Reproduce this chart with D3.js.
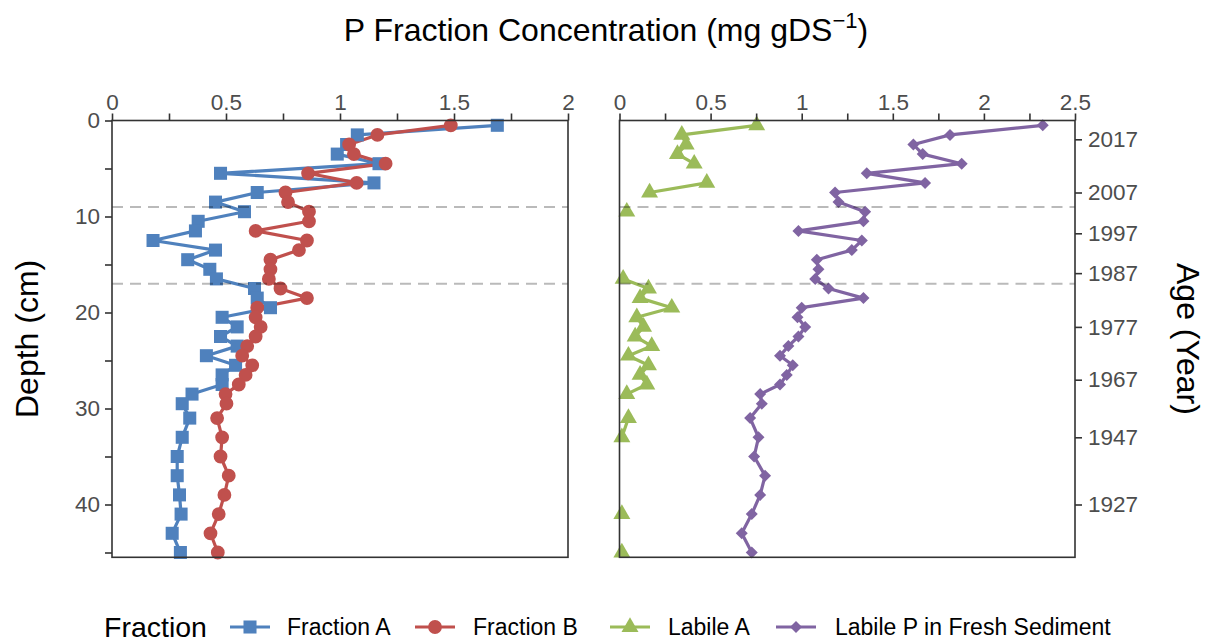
<!DOCTYPE html>
<html><head><meta charset="utf-8">
<script src="https://cdn.jsdelivr.net/npm/d3@7"></script>
<style>
body{margin:0;background:#fff;}
text{font-family:"Liberation Sans", Arial, Helvetica, sans-serif;}
</style></head><body>
<svg id="chart" width="1212" height="644"></svg>
<script>
// Sediment slice mid-depths (cm)
const depth = [0.5,1.5,2.5,3.5,4.5,5.5,6.5,7.5,8.5,9.5,10.5,11.5,12.5,13.5,14.5,15.5,16.5,17.5,18.5,19.5,
  20.5,21.5,22.5,23.5,24.5,25.5,26.5,27.5,28.5,29.5,31,33,35,37,39,41,43,45];

// P fractions (mg gDS^-1), left panel
const fractionA = [1.69,1.076,1.029,0.988,1.171,0.476,1.149,0.637,0.454,0.581,0.378,0.366,0.18,0.454,0.332,0.429,0.458,0.625,0.637,0.695,
  0.483,0.549,0.476,0.549,0.414,0.542,0.483,0.483,0.351,0.308,0.341,0.308,0.286,0.286,0.296,0.303,0.264,0.30];
const fractionB = [1.486,1.164,1.04,1.061,1.2,0.86,1.073,0.761,0.772,0.864,0.864,0.63,0.855,0.82,0.695,0.695,0.688,0.739,0.855,0.637,
  0.63,0.652,0.63,0.593,0.571,0.615,0.586,0.556,0.498,0.502,0.461,0.483,0.476,0.512,0.493,0.468,0.432,0.464];

// Labile fractions (mg gDS^-1), right panel; null = not measured
const labileA = [0.753,0.342,0.366,0.318,0.41,null,0.479,0.165,null,0.04,null,null,null,null,null,null,0.02,0.159,0.113,0.287,
  0.095,0.132,0.086,0.177,0.049,0.159,0.113,0.15,0.04,null,0.049,0.013,null,null,null,0.013,null,0.013];
const labileFresh = [2.323,1.814,1.613,1.664,1.878,1.357,1.677,1.183,1.202,1.348,1.339,0.982,1.33,1.275,1.083,1.092,1.074,1.147,1.339,1.0,
  0.977,1.019,0.982,0.927,0.881,0.951,0.918,0.881,0.772,0.781,0.717,0.763,0.739,0.799,0.772,0.726,0.671,0.726];

// Dated horizons: calendar year and the depth (cm) it maps to
const ageYears  = [2017, 2007, 1997, 1987, 1977, 1967, 1947, 1927];
const ageDepths = [1.96, 7.5, 11.75, 15.9, 21.5, 27.0, 33.0, 40.0];

// Axis ticks
const leftConcTicks  = [0, 0.25, 0.5, 0.75, 1, 1.25, 1.5, 1.75, 2];
const rightConcTicks = [0, 0.25, 0.5, 0.75, 1, 1.25, 1.5, 1.75, 2, 2.25, 2.5];
const depthTicks = [0, 5, 10, 15, 20, 25, 30, 35, 40, 45];

// Horizon markers (cm)
const horizons = [9, 17];

const seriesNames  = ["Fraction A", "Fraction B", "Labile A", "Labile P in Fresh Sediment"];
const seriesColors = ["#4F81BD", "#C0504D", "#9BBB59", "#8064A2"];

const svg = d3.select("#chart");

const plotTop = 120.5, plotBottom = 557.3;
const y = d3.scaleLinear().domain([0, 45.5]).range([plotTop, plotBottom]);
const xL = d3.scaleLinear().domain([0, 2]).range([112, 568]);
const xR = d3.scaleLinear().domain([0, 2.5]).range([619.5, 1075]);

const tickCol = "#333333", labCol = "#4D4D4D";
const fmt = d => (Math.abs(d * 2 - Math.round(d * 2)) < 1e-9) ? d3.format("~g")(d) : "";

function styleAxis(g) {
  g.select(".domain").remove();
  g.selectAll(".tick line").attr("stroke", tickCol).attr("stroke-width", 1.6);
  g.selectAll(".tick text").attr("fill", labCol).style("font-size", "22.5px")
    .style("font-family", "'Liberation Sans', Arial, sans-serif");
}

// symbol generators
const sq = d3.symbol(d3.symbolSquare, 170);
const ci = d3.symbol(d3.symbolCircle, 150);
const tr = d3.symbol(d3.symbolTriangle, 125);
const diamondPath = (s => `M0,${-s}L${s},0L0,${s}L${-s},0Z`)(6);
const shapes = [sq(), ci(), tr(), diamondPath];

function drawPanel(x, ticks, seriesIdx, values) {
  const rows = values.map(vals => depth.map((d, i) => ({ depth: d, v: vals[i] })));
  const line = d3.line().defined(d => d.v != null).x(d => x(d.v)).y(d => y(d.depth));
  rows.forEach((r, k) => {
    svg.append("path").datum(r).attr("d", line).attr("fill", "none")
      .attr("stroke", seriesColors[seriesIdx[k]]).attr("stroke-width", 3.2).attr("stroke-linejoin", "round");
  });
  rows.forEach((r, k) => {
    svg.append("g").selectAll("path").data(r.filter(d => d.v != null)).join("path")
      .attr("d", shapes[seriesIdx[k]])
      .attr("transform", d => `translate(${x(d.v)},${y(d.depth)})`)
      .attr("fill", seriesColors[seriesIdx[k]]);
  });
  // dashed horizons, drawn over the profiles
  svg.append("g").selectAll("line").data(horizons).join("line")
    .attr("x1", x.range()[0]).attr("x2", x.range()[1])
    .attr("y1", d => y(d)).attr("y2", d => y(d))
    .attr("stroke", "#000").attr("stroke-opacity", 0.27)
    .attr("stroke-width", 2).attr("stroke-dasharray", "11,7");
  // panel border
  svg.append("rect").attr("x", x.range()[0]).attr("y", plotTop)
    .attr("width", x.range()[1] - x.range()[0]).attr("height", plotBottom - plotTop)
    .attr("fill", "none").attr("stroke", tickCol).attr("stroke-width", 1.6);
  // top axis
  svg.append("g").attr("transform", `translate(0,${plotTop})`)
    .call(d3.axisTop(x).tickValues(ticks).tickFormat(fmt).tickSize(7).tickPadding(4))
    .call(styleAxis);
}

drawPanel(xL, leftConcTicks, [0, 1], [fractionA, fractionB]);
drawPanel(xR, rightConcTicks, [2, 3], [labileA, labileFresh]);

// depth axis
svg.append("g").attr("transform", `translate(${xL.range()[0]},0)`)
  .call(d3.axisLeft(y).tickValues(depthTicks).tickFormat(d => d % 10 === 0 ? d : "").tickSize(7).tickPadding(5))
  .call(styleAxis);

// age axis
svg.append("g").attr("transform", `translate(${xR.range()[1]},0)`)
  .call(d3.axisRight(y).tickValues(ageDepths).tickFormat((d, i) => ageYears[i]).tickSize(7).tickPadding(6))
  .call(styleAxis);

// titles
const title = svg.append("text").attr("x", 606).attr("y", 41).attr("text-anchor", "middle")
  .style("font-size", "32px").attr("fill", "#000");
title.append("tspan").text("P Fraction Concentration (mg gDS");
title.append("tspan").text("\u22121").style("font-size", "22px").attr("dy", -13);
title.append("tspan").text(")").attr("dy", 13);

svg.append("text").attr("transform", `translate(38,${(plotTop + plotBottom) / 2}) rotate(-90)`)
  .attr("text-anchor", "middle").style("font-size", "32px").text("Depth (cm)");
svg.append("text").attr("transform", `translate(1177,${(plotTop + plotBottom) / 2}) rotate(90)`)
  .attr("text-anchor", "middle").style("font-size", "32px").text("Age (Year)");

// legend
const ly = 627;
svg.append("text").attr("x", 104).attr("y", ly + 10).style("font-size", "28.5px").text("Fraction");
const keyC = [250, 435, 630, 796];
const labX = [287, 473, 668, 835];
seriesNames.forEach((name, k) => {
  svg.append("line").attr("x1", keyC[k] - 20).attr("x2", keyC[k] + 20).attr("y1", ly).attr("y2", ly)
    .attr("stroke", seriesColors[k]).attr("stroke-width", 3.2);
  svg.append("path").attr("d", shapes[k]).attr("transform", `translate(${keyC[k]},${ly})`)
    .attr("fill", seriesColors[k]);
  svg.append("text").attr("x", labX[k]).attr("y", ly + 8).style("font-size", "23px").text(name);
});
</script>
</body></html>
